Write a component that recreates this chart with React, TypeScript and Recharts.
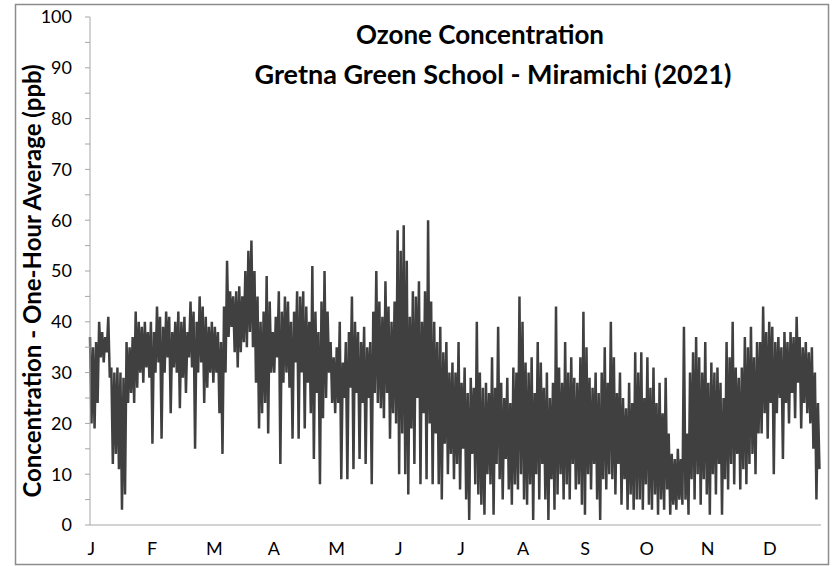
import { LineChart, Line, XAxis, YAxis } from "recharts"

// month initials shown under the axis
const MONTHS = ["J", "F", "M", "A", "M", "J", "J", "A", "S", "O", "N", "D"]
// where each month letter sits on the time axis (months since Jan 1)
const MONTH_TICKS = [0.02, 1.02, 2.04, 3.02, 4.05, 5.07, 6.09, 7.11, 8.13, 9.14, 10.14, 11.16]
const Y_TICKS = [0, 5, 10, 15, 20, 25, 30, 35, 40, 45, 50, 55, 60, 65, 70, 75, 80, 85, 90, 95, 100]

const JAN = [37, 20, 35, 19, 36, 24, 40, 33, 38, 32, 37, 34, 41, 29, 31, 12, 30, 14, 31, 11, 30, 3, 29, 6, 36, 24, 35, 26, 37, 24, 42, 27, 40, 30, 39, 28, 40, 31, 38, 29]
const FEB = [40, 16, 38, 30, 43, 32, 41, 17, 39, 30, 42, 33, 41, 22, 38, 31, 40, 30, 42, 23, 40, 29, 41, 26, 38, 33, 44, 31, 42, 15, 40, 30, 45, 32, 43, 24, 41, 27, 39, 30]
const MAR = [40, 28, 39, 30, 38, 22, 36, 14, 43, 30, 52, 37, 46, 39, 45, 34, 46, 31, 47, 34, 45, 36, 50, 35, 54, 38, 56, 35, 50, 28, 45, 19, 40, 22, 42, 24, 49, 18, 44, 30]
const APR = [38, 30, 41, 33, 46, 12, 42, 28, 45, 30, 44, 27, 40, 17, 42, 32, 46, 17, 45, 30, 46, 19, 43, 28, 40, 22, 51, 13, 42, 26, 38, 8, 44, 21, 50, 25, 42, 30, 36, 24]
const MAY = [33, 22, 35, 24, 40, 9, 32, 25, 36, 9, 38, 27, 45, 11, 40, 26, 38, 13, 36, 24, 39, 12, 35, 25, 36, 8, 42, 26, 50, 24, 44, 23, 41, 21, 48, 26, 43, 17, 40, 22]
const JUN = [44, 20, 58, 10, 54, 18, 59, 10, 52, 6, 41, 19, 46, 12, 45, 25, 48, 8, 40, 22, 46, 9, 60, 20, 44, 8, 40, 18, 36, 8, 39, 5, 34, 16, 36, 10, 30, 14, 32, 9]
const JUL = [30, 12, 36, 7, 28, 15, 31, 5, 26, 1, 29, 14, 27, 8, 40, 6, 30, 4, 27, 2, 28, 10, 26, 8, 33, 2, 27, 12, 39, 9, 28, 5, 25, 13, 29, 7, 24, 4, 31, 8]
const AUG = [30, 7, 45, 10, 40, 5, 32, 4, 30, 8, 33, 1, 26, 10, 36, 5, 32, 12, 27, 5, 30, 1, 25, 9, 28, 3, 43, 6, 31, 10, 28, 5, 36, 8, 30, 5, 33, 12, 29, 7]
const SEP = [28, 8, 33, 4, 42, 2, 35, 10, 29, 7, 27, 12, 30, 5, 26, 1, 30, 9, 35, 7, 28, 10, 40, 9, 33, 6, 26, 12, 30, 4, 25, 9, 23, 3, 28, 6, 24, 3, 34, 5]
const OCT = [30, 5, 34, 3, 25, 8, 33, 4, 27, 3, 31, 6, 24, 2, 28, 5, 22, 3, 29, 7, 18, 2, 14, 4, 13, 3, 15, 5, 13, 4, 39, 5, 18, 2, 30, 9, 34, 5, 37, 10]
const NOV = [33, 4, 30, 9, 36, 6, 28, 2, 32, 10, 30, 6, 31, 12, 28, 2, 25, 9, 36, 7, 33, 12, 40, 8, 31, 14, 29, 7, 31, 11, 37, 8, 35, 12, 39, 14, 33, 10, 36, 18]
const DEC = [36, 18, 43, 22, 38, 17, 40, 24, 39, 10, 36, 22, 37, 25, 35, 13, 38, 24, 36, 20, 38, 26, 37, 21, 41, 28, 37, 19, 35, 24, 36, 22, 34, 20, 35, 15, 30, 5, 24, 11]

const BY_MONTH = [JAN, FEB, MAR, APR, MAY, JUN, JUL, AUG, SEP, OCT, NOV, DEC]

const data = BY_MONTH.flatMap((vals, m) =>
  vals.map((v, j) => ({ t: m + j / vals.length, ozone: v }))
)

const FONT = "Lato, 'Open Sans', sans-serif"
const AXIS_GREY = "#a6a6a6"

export default function App() {
  return (
    <div style={{ position: "absolute", left: 0, top: 0, width: 835, height: 566, background: "#fff", fontFamily: FONT }}>
      <div style={{ position: "absolute", left: 0, top: 0 }}>
        <LineChart
          width={835}
          height={566}
          data={data}
          margin={{ top: 17, right: 14, bottom: 11, left: 30 }}
        >
          <XAxis
            dataKey="t"
            type="number"
            domain={[0, 12]}
            ticks={MONTH_TICKS}
            interval={0}
            tickFormatter={(_v, i) => MONTHS[i]}
            tickLine={false}
            tickSize={6}
            tickMargin={11}
            height={30}
            stroke={AXIS_GREY}
            tick={{ fill: "#000", fontSize: 18, fontFamily: FONT }}
          />
          <YAxis
            type="number"
            domain={[0, 100]}
            ticks={Y_TICKS}
            interval={0}
            width={60}
            tickSize={5}
            tickMargin={13}
            tickFormatter={(v) => (v % 10 === 0 ? String(v) : "")}
            stroke={AXIS_GREY}
            tick={{ fill: "#000", fontSize: 18, fontFamily: FONT }}
          />
          <Line
            type="linear"
            dataKey="ozone"
            stroke="#404040"
            strokeWidth={2.5}
            dot={false}
            isAnimationActive={false}
          />
        </LineChart>
      </div>
      <svg width={835} height={566} style={{ position: "absolute", left: 0, top: 0, pointerEvents: "none" }}>
        {/* outer chart frame */}
        <rect x={15.5} y={4.5} width={813} height={560} fill="none" stroke="#8c8c8c" strokeWidth={1.5} />
        <text x={480} y={44} textAnchor="middle" fontFamily={FONT} fontWeight="bold" fontSize={26} fill="#000">
          Ozone Concentration
        </text>
        <text x={493} y={84} textAnchor="middle" fontFamily={FONT} fontWeight="bold" fontSize={27} fill="#000">
          Gretna Green School - Miramichi (2021)
        </text>
        <text
          x={0}
          y={0}
          transform="translate(41 281) rotate(-90)"
          textAnchor="middle"
          fontFamily={FONT}
          fontWeight="bold"
          fontSize={24}
          fill="#000"
        >
          Concentration - One-Hour Average (ppb)
        </text>
      </svg>
    </div>
  )
}
